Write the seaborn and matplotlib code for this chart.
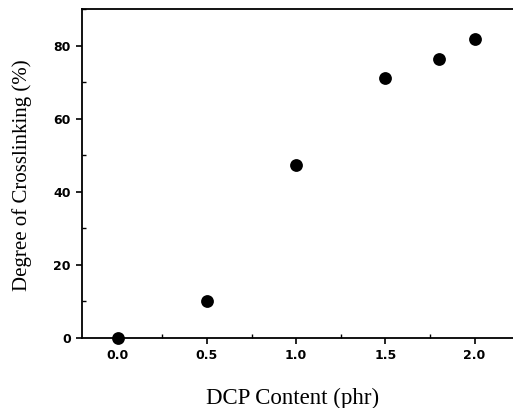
import matplotlib
matplotlib.use("Agg")
import matplotlib.pyplot as plt
import seaborn as sns
import pandas as pd
from matplotlib.ticker import MultipleLocator

dcp_content = [0.0, 0.5, 1.0, 1.5, 1.8, 2.0]
crosslinking = [0.0, 10.1, 47.3, 71.0, 76.2, 81.7]

df = pd.DataFrame({"dcp": dcp_content, "xl": crosslinking})

sns.set_style("ticks")
plt.rcParams["font.family"] = ["DejaVu Sans"]

fig = plt.figure(figsize=(5.13, 4.08), dpi=100)
ax = fig.add_axes([0.16, 0.172, 0.845, 0.806])

sns.scatterplot(data=df, x="dcp", y="xl", color="black", s=85,
                edgecolor="black", linewidth=0, ax=ax, clip_on=False, zorder=3)

ax.set_xlim(-0.2, 2.23)
ax.set_ylim(0, 90)
ax.xaxis.set_major_locator(MultipleLocator(0.5))
ax.xaxis.set_minor_locator(MultipleLocator(0.25))
ax.yaxis.set_major_locator(MultipleLocator(20))
ax.yaxis.set_minor_locator(MultipleLocator(10))
ax.xaxis.set_major_formatter(plt.FormatStrFormatter("%.1f"))

ax.tick_params(axis="both", which="major", direction="out", length=4, width=1.2,
               labelsize=9, pad=4, colors="black")
ax.tick_params(axis="both", which="minor", direction="in", length=3, width=1.0,
               colors="black")
for lab in ax.get_xticklabels() + ax.get_yticklabels():
    lab.set_fontweight("bold")

for side in ["left", "bottom", "top"]:
    ax.spines[side].set_linewidth(1.3)
    ax.spines[side].set_color("black")
ax.spines["right"].set_visible(False)
ax.spines["top"].set_visible(True)

ax.set_xlabel("DCP Content (phr)", fontfamily="Liberation Serif", fontsize=16.5, color="black")
ax.set_ylabel("Degree of Crosslinking (%)", fontfamily="Liberation Serif", fontsize=15, color="black")
ax.xaxis.set_label_coords(0.485, -0.152)
ax.yaxis.set_label_coords(-0.115, 0.494)

fig.savefig("out.png", dpi=100)
